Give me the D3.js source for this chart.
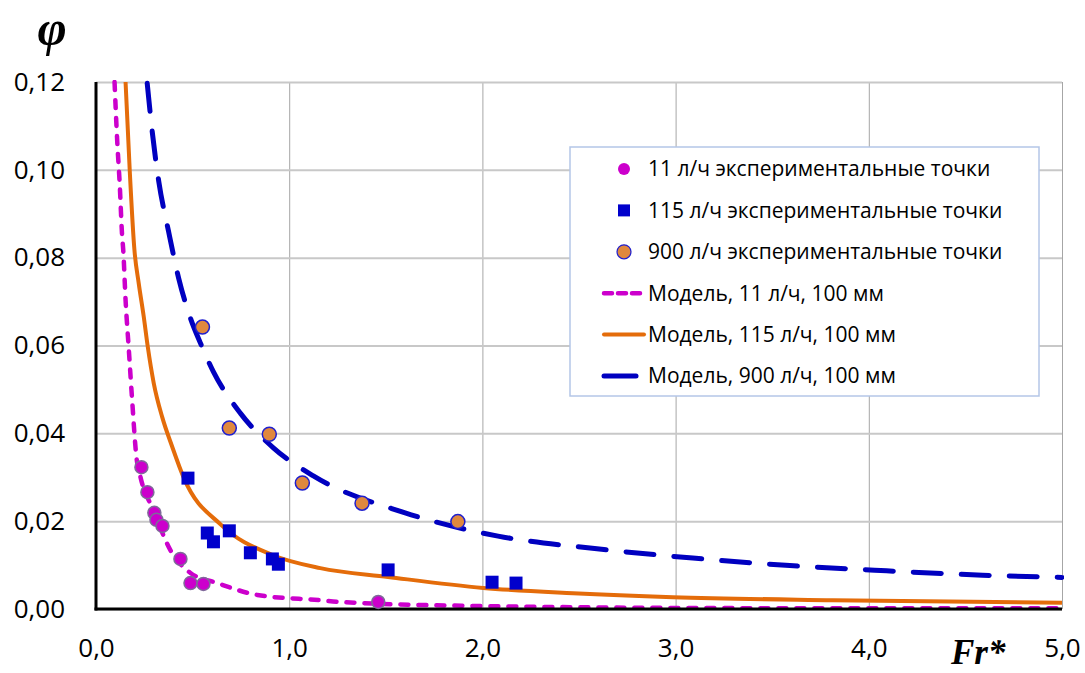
<!DOCTYPE html>
<html lang="ru">
<head>
    <meta charset="UTF-8">
    <title>phi vs Fr*</title>
    <script src="https://d3js.org/d3.v7.min.js"></script>
    <style>
        body { margin: 0; background: #fff; }
        svg { display: block; }
        .tick text { font-family: "Open Sans", sans-serif; font-size: 26px; fill: #000; }
        .legend text { font-family: "Open Sans", sans-serif; font-size: 21px; fill: #000; }
        .axis-title { font-family: "Liberation Serif", serif; font-weight: bold; font-style: italic; }
    </style>
</head>
<body>
<svg id="chart" width="1085" height="673"></svg>
<script>
    // tick values
    let xTicks = [0, 1, 2, 3, 4, 5]
    let yTicks = [0, 0.02, 0.04, 0.06, 0.08, 0.10, 0.12]

    // experimental points [Fr*, phi]
    let exp11 = [[0.235, 0.0323], [0.266, 0.0266], [0.302, 0.0219], [0.313, 0.0203], [0.344, 0.0189],
        [0.437, 0.0114], [0.489, 0.0059], [0.556, 0.0057], [1.461, 0.0016]]
    let exp115 = [[0.476, 0.0298], [0.576, 0.0173], [0.608, 0.0153], [0.690, 0.0178], [0.799, 0.0128],
        [0.913, 0.0114], [0.944, 0.0102], [1.512, 0.0089], [2.050, 0.0061], [2.174, 0.0059]]
    let exp900 = [[0.551, 0.0642], [0.690, 0.0412], [0.897, 0.0398], [1.068, 0.0287], [1.377, 0.0241], [1.873, 0.0199]]

    // model curves
    let model11 = [[0.096, 0.1200], [0.110, 0.1064], [0.123, 0.0965], [0.135, 0.0851], [0.141, 0.0817],
        [0.153, 0.0704], [0.170, 0.0590], [0.187, 0.0476], [0.209, 0.0347], [0.230, 0.0301], [0.297, 0.0225],
        [0.385, 0.0134], [0.489, 0.0082], [0.628, 0.0059], [0.835, 0.0032], [1.161, 0.0020], [1.264, 0.0016],
        [1.952, 0.0007], [3.333, 0.0002], [5.0, 0.00015]]
    let model115 = [[0.153, 0.1200], [0.175, 0.0995], [0.199, 0.0817], [0.221, 0.0742], [0.247, 0.0666],
        [0.268, 0.0597], [0.299, 0.0514], [0.342, 0.0438], [0.394, 0.0370], [0.455, 0.0298], [0.649, 0.0191],
        [0.913, 0.0123], [1.161, 0.0093], [1.512, 0.0073], [2.004, 0.0048], [2.469, 0.0036], [2.986, 0.0027],
        [3.813, 0.0020], [5.0, 0.0014]]
    let model900 = [[0.265, 0.1197], [0.291, 0.1087], [0.325, 0.0973], [0.376, 0.0859], [0.428, 0.0753],
        [0.489, 0.0662], [0.540, 0.0606], [0.608, 0.0540], [0.747, 0.0446], [0.918, 0.0367], [1.125, 0.0303],
        [1.600, 0.0219], [2.081, 0.0166], [2.593, 0.0137], [3.089, 0.0116], [3.591, 0.0099], [4.092, 0.0087],
        [4.589, 0.0077], [5.0, 0.0072]]

    let legendLabels = ["11 л/ч экспериментальные точки", "115 л/ч экспериментальные точки",
        "900 л/ч экспериментальные точки", "Модель, 11 л/ч, 100 мм", "Модель, 115 л/ч, 100 мм",
        "Модель, 900 л/ч, 100 мм"]

    let magenta = "#cc00cc"
    let orange = "#e46c0a"
    let blue = "#0000c0"

    let svg = d3.select("#chart")
    let x = d3.scaleLinear().domain([0, 5]).range([96, 1062])
    let y = d3.scaleLinear().domain([0, 0.12]).range([609, 82])
    let comma = f => v => d3.format(f)(v).replace(".", ",")

    // grid
    svg.append("g")
        .attr("transform", `translate(0,${y(0.12)})`)
        .call(d3.axisBottom(x).tickValues(xTicks).tickSize(y(0) - y(0.12)).tickFormat(""))
        .call(g => g.select(".domain").remove())
        .selectAll("line").attr("stroke", "#a6a6a6").attr("stroke-width", 1)
    svg.append("g")
        .attr("transform", `translate(${x(5)},0)`)
        .call(d3.axisLeft(y).tickValues(yTicks).tickSize(x(5) - x(0)).tickFormat(""))
        .call(g => g.select(".domain").remove())
        .selectAll("line").attr("stroke", "#c8c8c8").attr("stroke-width", 2)

    // tick labels
    svg.append("g")
        .attr("transform", `translate(${x(0)},0)`)
        .call(d3.axisLeft(y).tickValues(yTicks).tickSize(0).tickPadding(31).tickFormat(comma(".2f")))
        .call(g => g.select(".domain").remove())
    svg.append("g")
        .attr("transform", `translate(0,${y(0)})`)
        .call(d3.axisBottom(x).tickValues(xTicks).tickSize(0).tickPadding(30).tickFormat(comma(".1f")))
        .call(g => g.select(".domain").remove())

    // clip
    svg.append("clipPath").attr("id", "plot")
        .append("rect").attr("x", x(0)).attr("y", y(0.12) - 2).attr("width", x(5) - x(0) + 2).attr("height", y(0) - y(0.12) + 2)

    let line = d3.line().x(d => x(d[0])).y(d => y(d[1])).curve(d3.curveMonotoneX)
    let curves = svg.append("g").attr("clip-path", "url(#plot)")
    curves.append("path").attr("d", line(model115)).attr("fill", "none")
        .attr("stroke", orange).attr("stroke-width", 4)
    curves.append("path").attr("d", line(model900)).attr("fill", "none")
        .attr("stroke", blue).attr("stroke-width", 5).attr("stroke-dasharray", "28,20").attr("stroke-linecap", "round")
    curves.append("path").attr("d", line(model11)).attr("fill", "none")
        .attr("stroke", magenta).attr("stroke-width", 4.5).attr("stroke-dasharray", "8,10").attr("stroke-linecap", "round")

    // axis lines
    svg.append("line").attr("x1", x(0)).attr("x2", x(0)).attr("y1", y(0.12)).attr("y2", y(0) + 1.5)
        .attr("stroke", "#000").attr("stroke-width", 3)
    svg.append("line").attr("x1", x(0) - 1.5).attr("x2", x(5)).attr("y1", y(0)).attr("y2", y(0))
        .attr("stroke", "#000").attr("stroke-width", 3)

    // points
    svg.append("g").selectAll("circle").data(exp11).join("circle")
        .attr("cx", d => x(d[0])).attr("cy", d => y(d[1])).attr("r", 6.5)
        .attr("fill", magenta).attr("stroke", "#7f6a9a").attr("stroke-width", 1.5)
    svg.append("g").selectAll("rect").data(exp115).join("rect")
        .attr("x", d => x(d[0]) - 6.5).attr("y", d => y(d[1]) - 6.5).attr("width", 13).attr("height", 13)
        .attr("fill", "#0000cc")
    svg.append("g").selectAll("circle").data(exp900).join("circle")
        .attr("cx", d => x(d[0])).attr("cy", d => y(d[1])).attr("r", 7)
        .attr("fill", "#e0883e").attr("stroke", "#1f1fcf").attr("stroke-width", 1.5)

    // legend
    let legend = svg.append("g").attr("class", "legend")
    legend.append("rect").attr("x", 570).attr("y", 147).attr("width", 469).attr("height", 249)
        .attr("fill", "#fff").attr("stroke", "#b4c6e7").attr("stroke-width", 1.5)
    let rowY = i => 169 + i * 41.4
    legendLabels.forEach((t, i) => {
        legend.append("text").attr("x", 648).attr("y", rowY(i)).attr("dy", "0.35em").text(t)
    })
    legend.append("circle").attr("cx", 624).attr("cy", rowY(0)).attr("r", 6).attr("fill", magenta)
    legend.append("rect").attr("x", 618).attr("y", rowY(1) - 6).attr("width", 12).attr("height", 12).attr("fill", "#0000cc")
    legend.append("circle").attr("cx", 624).attr("cy", rowY(2)).attr("r", 7)
        .attr("fill", "#e0883e").attr("stroke", "#1f1fcf").attr("stroke-width", 1.2)
    legend.append("line").attr("x1", 604).attr("x2", 644).attr("y1", rowY(3)).attr("y2", rowY(3))
        .attr("stroke", magenta).attr("stroke-width", 4.5).attr("stroke-dasharray", "8,6").attr("stroke-linecap", "round")
    legend.append("line").attr("x1", 604).attr("x2", 644).attr("y1", rowY(4)).attr("y2", rowY(4))
        .attr("stroke", orange).attr("stroke-width", 4).attr("stroke-linecap", "round")
    legend.append("line").attr("x1", 604).attr("x2", 636).attr("y1", rowY(5)).attr("y2", rowY(5))
        .attr("stroke", blue).attr("stroke-width", 5).attr("stroke-linecap", "round")

    // axis titles
    svg.append("text").attr("class", "axis-title").attr("x", 52).attr("y", 45)
        .attr("text-anchor", "middle").attr("font-size", 50).text("φ")
    svg.append("text").attr("class", "axis-title").attr("x", 951).attr("y", 664)
        .attr("font-size", 35).text("Fr*")
</script>
</body>
</html>
